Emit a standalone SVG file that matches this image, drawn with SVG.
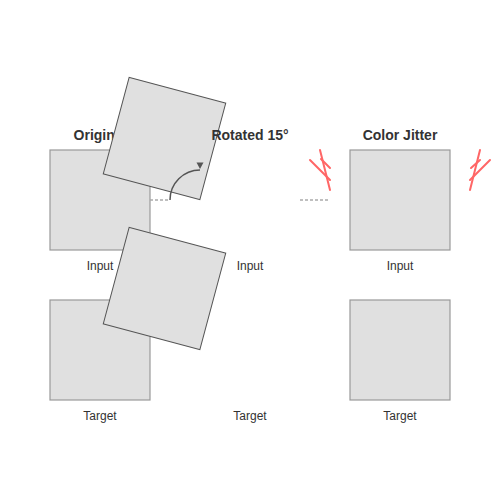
<svg xmlns="http://www.w3.org/2000/svg" width="500" height="500" viewBox="0 0 500 500">
<style>
.title{font-family:"Liberation Sans",Arial,sans-serif;font-size:14px;font-weight:bold;fill:#333;text-anchor:middle}
.label{font-family:"Liberation Sans",Arial,sans-serif;font-size:12px;fill:#333;text-anchor:middle}
.sq{fill:#e0e0e0;stroke:#999;stroke-width:1.2}
.rot{fill:#e0e0e0;stroke:#555;stroke-width:1}
.dash{stroke:#aaa;stroke-width:1.5;stroke-dasharray:3,2;fill:none}
.jit{stroke:#ff6666;stroke-width:2;fill:none;stroke-linecap:round}
</style>
<rect width="500" height="500" fill="#fff"/>
<g id="original">
<text class="title" x="100" y="140">Original</text>
<rect class="sq" x="50" y="150" width="100" height="100"/>
<text class="label" x="100" y="270">Input</text>
<rect class="sq" x="50" y="300" width="100" height="100"/>
<text class="label" x="100" y="420">Target</text>
</g>
<g id="rotated">
<rect class="rot" x="-50" y="-50" width="100" height="100" transform="translate(164.5,138.5) rotate(15)"/>
<rect class="rot" x="-50" y="-50" width="100" height="100" transform="translate(164.5,288.5) rotate(15)"/>
<text class="title" x="250" y="140">Rotated 15°</text>
<text class="label" x="250" y="270">Input</text>
<text class="label" x="250" y="420">Target</text>
</g>
<g id="colorjitter">
<text class="title" x="400" y="140">Color Jitter</text>
<rect class="sq" x="350" y="150" width="100" height="100"/>
<text class="label" x="400" y="270">Input</text>
<rect class="sq" x="350" y="300" width="100" height="100"/>
<text class="label" x="400" y="420">Target</text>
</g>
<g id="connectors">
<line class="dash" x1="150" y1="200" x2="168" y2="200"/>
<line class="dash" x1="300" y1="200" x2="328" y2="200"/>
<path d="M170,200 A30,30 0 0,1 200,170" fill="none" stroke="#555" stroke-width="1.5"/>
<polygon points="196.5,162.5 203.5,162.5 200,169" fill="#555"/>
</g>
<g id="jitter-marks">
<line class="jit" x1="320" y1="150" x2="330" y2="190"/>
<line class="jit" x1="310" y1="160" x2="330" y2="180"/>
<line class="jit" x1="321" y1="159" x2="330" y2="168"/>
<line class="jit" x1="480" y1="150" x2="470" y2="190"/>
<line class="jit" x1="490" y1="160" x2="470" y2="180"/>
<line class="jit" x1="480" y1="160" x2="471" y2="168"/>
</g>
</svg>
